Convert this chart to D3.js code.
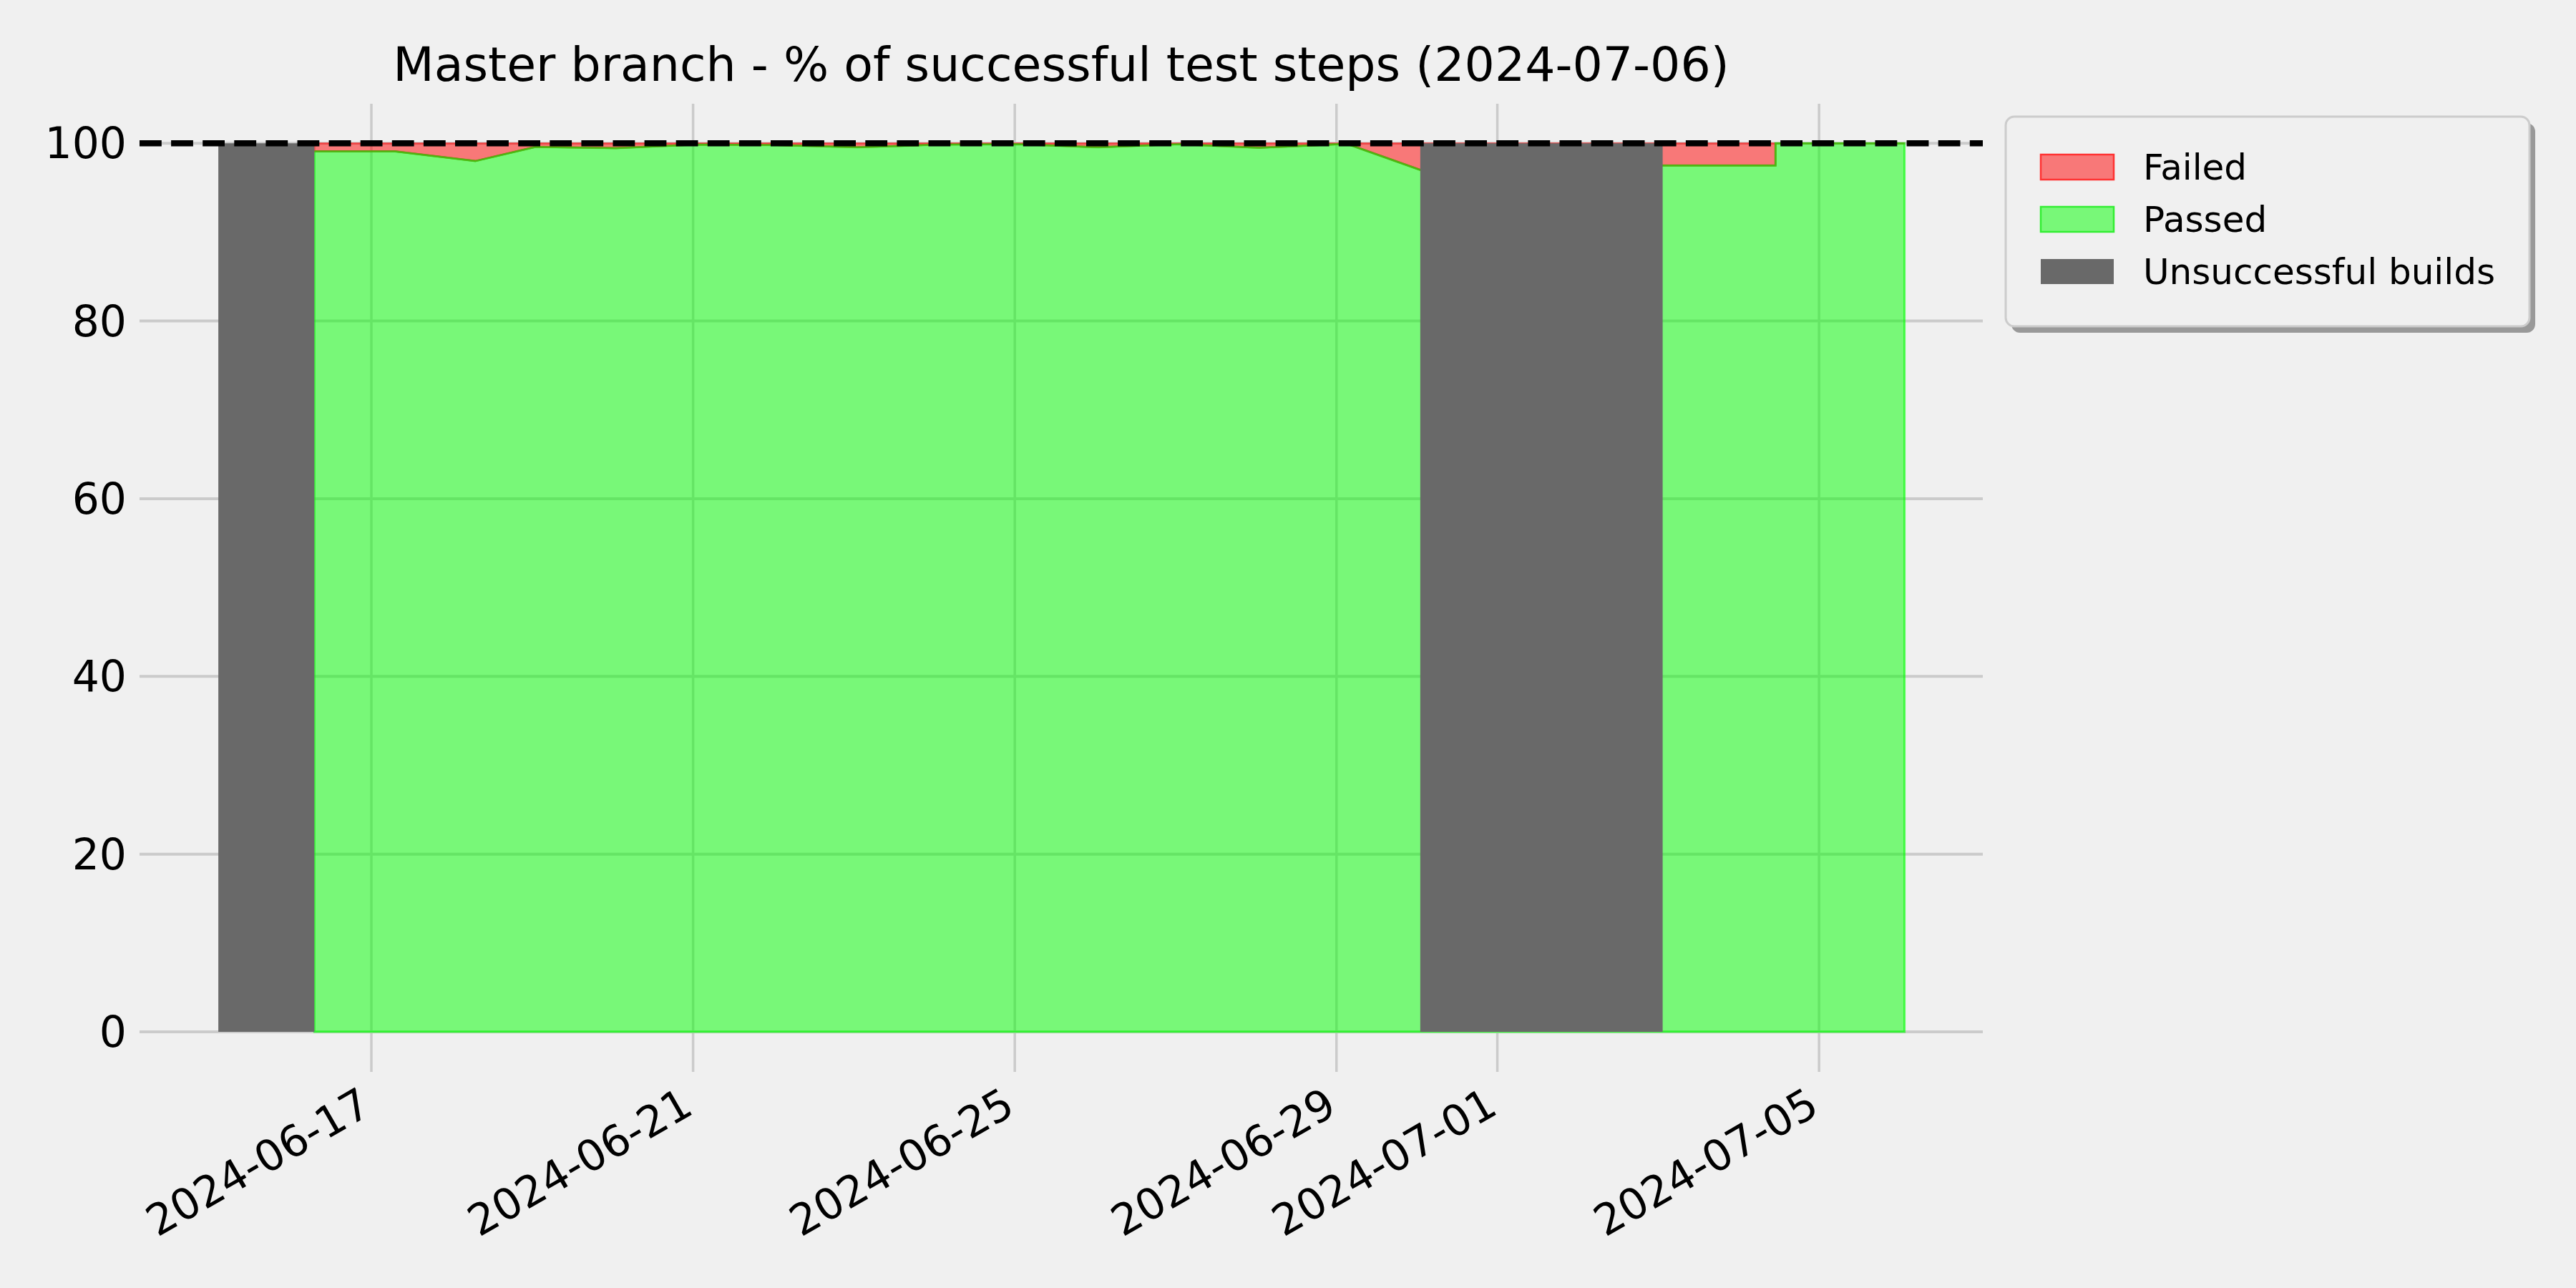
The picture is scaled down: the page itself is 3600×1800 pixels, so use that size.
<!DOCTYPE html>
<html>
<head>
<meta charset="utf-8">
<script src="https://cdn.jsdelivr.net/npm/d3@7"></script>
<style>
  html, body { margin: 0; padding: 0; background: #f0f0f0; }
  svg { display: block; }
  text { font-family: "DejaVu Sans", sans-serif; fill: #000; }
</style>
</head>
<body>
<script>
// ---------------- data ----------------
const chartTitle = "Master branch - % of successful test steps (2024-07-06)";
const runDates = [
  "2024-06-16T07:00", "2024-06-17T07:00", "2024-06-18T07:00", "2024-06-19T01:00",
  "2024-06-20T01:00", "2024-06-21T01:00", "2024-06-22T01:00", "2024-06-23T01:00",
  "2024-06-24T01:00", "2024-06-25T01:00", "2024-06-26T01:00", "2024-06-27T01:00",
  "2024-06-28T01:00", "2024-06-29T03:00", "2024-06-30T01:00", "2024-07-03T01:20",
  "2024-07-04T11:00", "2024-07-04T11:00", "2024-07-06T01:30"
];
const passedPct = [99.1, 99.1, 98.0, 99.6, 99.45, 99.85, 99.8, 99.55, 99.85, 99.9, 99.55, 99.9, 99.5, 99.95, 97.0, 97.5, 97.5, 100, 100];
const failedPct = [0.9, 0.9, 2.0, 0.4, 0.55, 0.15, 0.2, 0.45, 0.15, 0.1, 0.45, 0.1, 0.5, 0.05, 3.0, 2.5, 2.5, 0, 0];
const unsuccessfulStart = ["2024-06-15T02:20", "2024-06-30T01:00"];
const unsuccessfulEnd   = ["2024-06-16T07:00", "2024-07-03T01:20"];
const unsuccessfulPct = [100, 100];
const xTickDates = ["2024-06-17", "2024-06-21", "2024-06-25", "2024-06-29", "2024-07-01", "2024-07-05"];
const yTicks = [0, 20, 40, 60, 80, 100];
const xDomainDates = ["2024-06-14T02:49", "2024-07-07T00:52"];
const yDomain = [0, 104.45];
const referenceLine = 100;
const legendLabels = ["Failed", "Passed", "Unsuccessful builds"];

// ---------------- layout ----------------
const W = 3600, H = 1800;
const plot = { left: 195, right: 2771, top: 145, bottom: 1442 };
const colors = { failed: "#ff0000", passed: "#00ff00", unsuccessful: "#696969", grid: "#cbcbcb", bg: "#f0f0f0" };

const parseT = d3.utcParse("%Y-%m-%dT%H:%M");
const parseD = d3.utcParse("%Y-%m-%d");
const rows = runDates.map((d, i) => ({ t: parseT(d), passed: passedPct[i], failed: failedPct[i] }));
const fails = unsuccessfulStart.map((d, i) => ({ s: parseT(d), e: parseT(unsuccessfulEnd[i]), v: unsuccessfulPct[i] }));

const x = d3.scaleUtc().domain(xDomainDates.map(parseT)).range([plot.left, plot.right]);
const y = d3.scaleLinear().domain(yDomain).range([plot.bottom, plot.top]);

const svg = d3.select("body").append("svg").attr("width", W).attr("height", H);
svg.append("rect").attr("width", W).attr("height", H).attr("fill", colors.bg);

// grid
const g = svg.append("g");
g.selectAll(".hg").data(yTicks).join("line")
  .attr("x1", plot.left).attr("x2", plot.right)
  .attr("y1", d => y(d)).attr("y2", d => y(d))
  .attr("stroke", colors.grid).attr("stroke-width", 4);
g.selectAll(".vg").data(xTickDates.map(parseD)).join("line")
  .attr("x1", d => x(d)).attr("x2", d => x(d))
  .attr("y1", plot.top).attr("y2", plot.bottom + 56)
  .attr("stroke", colors.grid).attr("stroke-width", 3.5);

// stacked areas
const passedArea = d3.area().x(d => x(d.t)).y0(y(0)).y1(d => y(d.passed));
const failedArea = d3.area().x(d => x(d.t)).y0(d => y(d.passed)).y1(d => y(d.passed + d.failed));
svg.append("path").datum(rows).attr("d", passedArea)
  .attr("fill", colors.passed).attr("fill-opacity", 0.5)
  .attr("stroke", colors.passed).attr("stroke-opacity", 0.6).attr("stroke-width", 3);
svg.append("path").datum(rows).attr("d", failedArea)
  .attr("fill", colors.failed).attr("fill-opacity", 0.5)
  .attr("stroke", colors.failed).attr("stroke-opacity", 0.5).attr("stroke-width", 2.5);
// darker green boundary line on top of passed
svg.append("path").datum(rows)
  .attr("d", d3.line().x(d => x(d.t)).y(d => y(d.passed)))
  .attr("fill", "none").attr("stroke", "#33cc11").attr("stroke-opacity", 0.8).attr("stroke-width", 2.5);

// unsuccessful builds
svg.selectAll(".fail").data(fails).join("rect")
  .attr("x", d => x(d.s)).attr("width", d => x(d.e) - x(d.s))
  .attr("y", d => y(d.v)).attr("height", d => y(0) - y(d.v))
  .attr("fill", colors.unsuccessful);

// reference dashed line
svg.append("line")
  .attr("x1", plot.left).attr("x2", plot.right)
  .attr("y1", y(referenceLine)).attr("y2", y(referenceLine))
  .attr("stroke", "#000").attr("stroke-width", 8.3)
  .attr("stroke-dasharray", "30.8,13.3");

// y tick labels
svg.selectAll(".yl").data(yTicks).join("text")
  .attr("x", 177).attr("y", d => y(d))
  .attr("text-anchor", "end").attr("dominant-baseline", "central")
  .attr("font-size", 60).text(d => d);

// x tick labels
const fmt = d3.utcFormat("%Y-%m-%d");
svg.selectAll(".xl").data(xTickDates.map(parseD)).join("text")
  .attr("transform", d => `translate(${x(d) + 3},${1555}) rotate(-30)`)
  .attr("text-anchor", "end").attr("font-size", 60).text(d => fmt(d));

// title
svg.append("text").attr("x", (plot.left + plot.right) / 2).attr("y", 113)
  .attr("text-anchor", "middle").attr("font-size", 66.5).text(chartTitle);

// legend
const lg = svg.append("g");
const box = { x: 2803, y: 163, w: 732, h: 293 };
lg.append("rect").attr("x", box.x + 8).attr("y", box.y + 9).attr("width", box.w).attr("height", box.h)
  .attr("rx", 12).attr("fill", "#999999");
lg.append("rect").attr("x", box.x).attr("y", box.y).attr("width", box.w).attr("height", box.h)
  .attr("rx", 12).attr("fill", "#f0f0f0").attr("stroke", "#cccccc").attr("stroke-width", 3);
const handleFill = [colors.failed, colors.passed, colors.unsuccessful];
const handleOpacity = [0.5, 0.5, 1];
const handleStroke = ["#ff3333", "#33ee33", "none"];
legendLabels.forEach((lab, i) => {
  const cy = 233.5 + i * 73;
  lg.append("rect").attr("x", 2852).attr("y", cy - 17.5).attr("width", 102).attr("height", 35)
    .attr("fill", handleFill[i]).attr("fill-opacity", handleOpacity[i])
    .attr("stroke", handleStroke[i]).attr("stroke-width", 2.5);
  lg.append("text").attr("x", 2995).attr("y", cy).attr("dominant-baseline", "central")
    .attr("font-size", 50).text(lab);
});
</script>
</body>
</html>
